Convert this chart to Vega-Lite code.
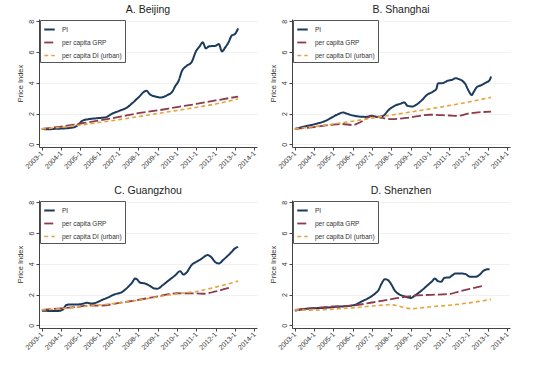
{
  "$schema": "https://vega.github.io/schema/vega-lite/v6.json",
  "padding": {"left": 16, "top": 4, "right": 5, "bottom": 5},
  "background": "white",
  "datasets": {
    "d": [
      {"city":"Beijing","series":"PI","date":"2003-01-01","value":1.0},
      {"city":"Beijing","series":"PI","date":"2003-05-01","value":0.97},
      {"city":"Beijing","series":"PI","date":"2003-09-01","value":1.0},
      {"city":"Beijing","series":"PI","date":"2004-03-01","value":1.03},
      {"city":"Beijing","series":"PI","date":"2004-09-01","value":1.1},
      {"city":"Beijing","series":"PI","date":"2004-12-01","value":1.3},
      {"city":"Beijing","series":"PI","date":"2005-02-01","value":1.52},
      {"city":"Beijing","series":"PI","date":"2005-06-01","value":1.63},
      {"city":"Beijing","series":"PI","date":"2005-12-01","value":1.7},
      {"city":"Beijing","series":"PI","date":"2006-05-01","value":1.76},
      {"city":"Beijing","series":"PI","date":"2006-08-01","value":1.95},
      {"city":"Beijing","series":"PI","date":"2007-01-01","value":2.17},
      {"city":"Beijing","series":"PI","date":"2007-06-01","value":2.39},
      {"city":"Beijing","series":"PI","date":"2007-09-01","value":2.65},
      {"city":"Beijing","series":"PI","date":"2008-01-01","value":3.04},
      {"city":"Beijing","series":"PI","date":"2008-06-01","value":3.48},
      {"city":"Beijing","series":"PI","date":"2008-08-01","value":3.26},
      {"city":"Beijing","series":"PI","date":"2008-12-01","value":3.09},
      {"city":"Beijing","series":"PI","date":"2009-03-01","value":3.04},
      {"city":"Beijing","series":"PI","date":"2009-07-01","value":3.2},
      {"city":"Beijing","series":"PI","date":"2009-10-01","value":3.41},
      {"city":"Beijing","series":"PI","date":"2009-12-01","value":3.8},
      {"city":"Beijing","series":"PI","date":"2010-02-01","value":4.13},
      {"city":"Beijing","series":"PI","date":"2010-04-01","value":4.74},
      {"city":"Beijing","series":"PI","date":"2010-07-01","value":5.1},
      {"city":"Beijing","series":"PI","date":"2010-10-01","value":5.33},
      {"city":"Beijing","series":"PI","date":"2011-01-01","value":6.09},
      {"city":"Beijing","series":"PI","date":"2011-03-01","value":6.35},
      {"city":"Beijing","series":"PI","date":"2011-05-01","value":6.63},
      {"city":"Beijing","series":"PI","date":"2011-07-01","value":6.24},
      {"city":"Beijing","series":"PI","date":"2011-09-01","value":6.37},
      {"city":"Beijing","series":"PI","date":"2012-01-01","value":6.41},
      {"city":"Beijing","series":"PI","date":"2012-03-01","value":6.52},
      {"city":"Beijing","series":"PI","date":"2012-05-01","value":6.04},
      {"city":"Beijing","series":"PI","date":"2012-07-01","value":6.3},
      {"city":"Beijing","series":"PI","date":"2012-09-01","value":6.63},
      {"city":"Beijing","series":"PI","date":"2012-11-01","value":7.07},
      {"city":"Beijing","series":"PI","date":"2013-01-01","value":7.17},
      {"city":"Beijing","series":"PI","date":"2013-03-01","value":7.54},
      {"city":"Beijing","series":"per capita GRP","date":"2003-01-01","value":1.0},
      {"city":"Beijing","series":"per capita GRP","date":"2004-01-01","value":1.15},
      {"city":"Beijing","series":"per capita GRP","date":"2005-01-01","value":1.35},
      {"city":"Beijing","series":"per capita GRP","date":"2006-01-01","value":1.55},
      {"city":"Beijing","series":"per capita GRP","date":"2007-01-01","value":1.78},
      {"city":"Beijing","series":"per capita GRP","date":"2008-01-01","value":2.02},
      {"city":"Beijing","series":"per capita GRP","date":"2009-01-01","value":2.2},
      {"city":"Beijing","series":"per capita GRP","date":"2010-01-01","value":2.42},
      {"city":"Beijing","series":"per capita GRP","date":"2011-01-01","value":2.62},
      {"city":"Beijing","series":"per capita GRP","date":"2012-01-01","value":2.85},
      {"city":"Beijing","series":"per capita GRP","date":"2013-03-01","value":3.1},
      {"city":"Beijing","series":"per capita DI (urban)","date":"2003-01-01","value":1.0},
      {"city":"Beijing","series":"per capita DI (urban)","date":"2004-01-01","value":1.1},
      {"city":"Beijing","series":"per capita DI (urban)","date":"2005-01-01","value":1.25},
      {"city":"Beijing","series":"per capita DI (urban)","date":"2006-01-01","value":1.42},
      {"city":"Beijing","series":"per capita DI (urban)","date":"2007-01-01","value":1.6},
      {"city":"Beijing","series":"per capita DI (urban)","date":"2008-01-01","value":1.8},
      {"city":"Beijing","series":"per capita DI (urban)","date":"2009-01-01","value":2.0},
      {"city":"Beijing","series":"per capita DI (urban)","date":"2010-01-01","value":2.2},
      {"city":"Beijing","series":"per capita DI (urban)","date":"2011-01-01","value":2.4},
      {"city":"Beijing","series":"per capita DI (urban)","date":"2012-01-01","value":2.62},
      {"city":"Beijing","series":"per capita DI (urban)","date":"2013-03-01","value":2.95},

      {"city":"Shanghai","series":"PI","date":"2003-01-01","value":1.0},
      {"city":"Shanghai","series":"PI","date":"2003-09-01","value":1.2},
      {"city":"Shanghai","series":"PI","date":"2004-03-01","value":1.35},
      {"city":"Shanghai","series":"PI","date":"2004-08-01","value":1.52},
      {"city":"Shanghai","series":"PI","date":"2004-12-01","value":1.74},
      {"city":"Shanghai","series":"PI","date":"2005-04-01","value":1.96},
      {"city":"Shanghai","series":"PI","date":"2005-07-01","value":2.07},
      {"city":"Shanghai","series":"PI","date":"2005-09-01","value":2.0},
      {"city":"Shanghai","series":"PI","date":"2006-01-01","value":1.87},
      {"city":"Shanghai","series":"PI","date":"2006-05-01","value":1.8},
      {"city":"Shanghai","series":"PI","date":"2006-09-01","value":1.78},
      {"city":"Shanghai","series":"PI","date":"2007-01-01","value":1.85},
      {"city":"Shanghai","series":"PI","date":"2007-04-01","value":1.78},
      {"city":"Shanghai","series":"PI","date":"2007-08-01","value":1.85},
      {"city":"Shanghai","series":"PI","date":"2007-11-01","value":2.2},
      {"city":"Shanghai","series":"PI","date":"2008-03-01","value":2.5},
      {"city":"Shanghai","series":"PI","date":"2008-07-01","value":2.65},
      {"city":"Shanghai","series":"PI","date":"2008-09-01","value":2.72},
      {"city":"Shanghai","series":"PI","date":"2008-11-01","value":2.5},
      {"city":"Shanghai","series":"PI","date":"2009-02-01","value":2.46},
      {"city":"Shanghai","series":"PI","date":"2009-05-01","value":2.6},
      {"city":"Shanghai","series":"PI","date":"2009-08-01","value":2.87},
      {"city":"Shanghai","series":"PI","date":"2009-11-01","value":3.2},
      {"city":"Shanghai","series":"PI","date":"2010-03-01","value":3.43},
      {"city":"Shanghai","series":"PI","date":"2010-05-01","value":3.6},
      {"city":"Shanghai","series":"PI","date":"2010-06-01","value":3.96},
      {"city":"Shanghai","series":"PI","date":"2010-09-01","value":3.98},
      {"city":"Shanghai","series":"PI","date":"2010-12-01","value":4.13},
      {"city":"Shanghai","series":"PI","date":"2011-03-01","value":4.2},
      {"city":"Shanghai","series":"PI","date":"2011-05-01","value":4.3},
      {"city":"Shanghai","series":"PI","date":"2011-07-01","value":4.24},
      {"city":"Shanghai","series":"PI","date":"2011-09-01","value":4.13},
      {"city":"Shanghai","series":"PI","date":"2011-11-01","value":3.91},
      {"city":"Shanghai","series":"PI","date":"2012-01-01","value":3.48},
      {"city":"Shanghai","series":"PI","date":"2012-03-01","value":3.2},
      {"city":"Shanghai","series":"PI","date":"2012-04-01","value":3.37},
      {"city":"Shanghai","series":"PI","date":"2012-06-01","value":3.7},
      {"city":"Shanghai","series":"PI","date":"2012-09-01","value":3.85},
      {"city":"Shanghai","series":"PI","date":"2012-12-01","value":4.02},
      {"city":"Shanghai","series":"PI","date":"2013-02-01","value":4.17},
      {"city":"Shanghai","series":"PI","date":"2013-03-01","value":4.41},
      {"city":"Shanghai","series":"per capita GRP","date":"2003-01-01","value":1.0},
      {"city":"Shanghai","series":"per capita GRP","date":"2004-01-01","value":1.12},
      {"city":"Shanghai","series":"per capita GRP","date":"2005-01-01","value":1.28},
      {"city":"Shanghai","series":"per capita GRP","date":"2005-06-01","value":1.32},
      {"city":"Shanghai","series":"per capita GRP","date":"2006-01-01","value":1.25},
      {"city":"Shanghai","series":"per capita GRP","date":"2006-06-01","value":1.45},
      {"city":"Shanghai","series":"per capita GRP","date":"2007-01-01","value":1.83},
      {"city":"Shanghai","series":"per capita GRP","date":"2007-06-01","value":1.74},
      {"city":"Shanghai","series":"per capita GRP","date":"2008-01-01","value":1.63},
      {"city":"Shanghai","series":"per capita GRP","date":"2009-01-01","value":1.75},
      {"city":"Shanghai","series":"per capita GRP","date":"2010-01-01","value":1.92},
      {"city":"Shanghai","series":"per capita GRP","date":"2011-01-01","value":1.87},
      {"city":"Shanghai","series":"per capita GRP","date":"2011-06-01","value":1.85},
      {"city":"Shanghai","series":"per capita GRP","date":"2012-01-01","value":2.0},
      {"city":"Shanghai","series":"per capita GRP","date":"2013-03-01","value":2.12},
      {"city":"Shanghai","series":"per capita DI (urban)","date":"2003-01-01","value":1.0},
      {"city":"Shanghai","series":"per capita DI (urban)","date":"2004-01-01","value":1.15},
      {"city":"Shanghai","series":"per capita DI (urban)","date":"2005-01-01","value":1.32},
      {"city":"Shanghai","series":"per capita DI (urban)","date":"2006-01-01","value":1.5},
      {"city":"Shanghai","series":"per capita DI (urban)","date":"2007-01-01","value":1.7},
      {"city":"Shanghai","series":"per capita DI (urban)","date":"2008-01-01","value":1.9},
      {"city":"Shanghai","series":"per capita DI (urban)","date":"2009-01-01","value":2.1},
      {"city":"Shanghai","series":"per capita DI (urban)","date":"2010-01-01","value":2.3},
      {"city":"Shanghai","series":"per capita DI (urban)","date":"2011-01-01","value":2.52},
      {"city":"Shanghai","series":"per capita DI (urban)","date":"2012-01-01","value":2.75},
      {"city":"Shanghai","series":"per capita DI (urban)","date":"2013-03-01","value":3.05},

      {"city":"Guangzhou","series":"PI","date":"2003-01-01","value":0.95},
      {"city":"Guangzhou","series":"PI","date":"2003-07-01","value":0.93},
      {"city":"Guangzhou","series":"PI","date":"2003-11-01","value":0.93},
      {"city":"Guangzhou","series":"PI","date":"2004-02-01","value":1.02},
      {"city":"Guangzhou","series":"PI","date":"2004-04-01","value":1.3},
      {"city":"Guangzhou","series":"PI","date":"2004-06-01","value":1.35},
      {"city":"Guangzhou","series":"PI","date":"2004-11-01","value":1.35},
      {"city":"Guangzhou","series":"PI","date":"2005-03-01","value":1.41},
      {"city":"Guangzhou","series":"PI","date":"2005-05-01","value":1.46},
      {"city":"Guangzhou","series":"PI","date":"2005-08-01","value":1.41},
      {"city":"Guangzhou","series":"PI","date":"2005-11-01","value":1.48},
      {"city":"Guangzhou","series":"PI","date":"2006-02-01","value":1.63},
      {"city":"Guangzhou","series":"PI","date":"2006-06-01","value":1.8},
      {"city":"Guangzhou","series":"PI","date":"2006-10-01","value":2.0},
      {"city":"Guangzhou","series":"PI","date":"2007-03-01","value":2.17},
      {"city":"Guangzhou","series":"PI","date":"2007-06-01","value":2.43},
      {"city":"Guangzhou","series":"PI","date":"2007-09-01","value":2.76},
      {"city":"Guangzhou","series":"PI","date":"2007-11-01","value":3.04},
      {"city":"Guangzhou","series":"PI","date":"2007-12-01","value":3.0},
      {"city":"Guangzhou","series":"PI","date":"2008-02-01","value":2.78},
      {"city":"Guangzhou","series":"PI","date":"2008-05-01","value":2.72},
      {"city":"Guangzhou","series":"PI","date":"2008-08-01","value":2.57},
      {"city":"Guangzhou","series":"PI","date":"2008-11-01","value":2.39},
      {"city":"Guangzhou","series":"PI","date":"2009-01-01","value":2.38},
      {"city":"Guangzhou","series":"PI","date":"2009-04-01","value":2.6},
      {"city":"Guangzhou","series":"PI","date":"2009-08-01","value":2.93},
      {"city":"Guangzhou","series":"PI","date":"2009-12-01","value":3.26},
      {"city":"Guangzhou","series":"PI","date":"2010-03-01","value":3.52},
      {"city":"Guangzhou","series":"PI","date":"2010-05-01","value":3.3},
      {"city":"Guangzhou","series":"PI","date":"2010-07-01","value":3.43},
      {"city":"Guangzhou","series":"PI","date":"2010-10-01","value":3.91},
      {"city":"Guangzhou","series":"PI","date":"2011-01-01","value":4.13},
      {"city":"Guangzhou","series":"PI","date":"2011-04-01","value":4.3},
      {"city":"Guangzhou","series":"PI","date":"2011-06-01","value":4.46},
      {"city":"Guangzhou","series":"PI","date":"2011-08-01","value":4.57},
      {"city":"Guangzhou","series":"PI","date":"2011-10-01","value":4.46},
      {"city":"Guangzhou","series":"PI","date":"2012-01-01","value":4.09},
      {"city":"Guangzhou","series":"PI","date":"2012-03-01","value":4.02},
      {"city":"Guangzhou","series":"PI","date":"2012-06-01","value":4.28},
      {"city":"Guangzhou","series":"PI","date":"2012-09-01","value":4.57},
      {"city":"Guangzhou","series":"PI","date":"2012-11-01","value":4.78},
      {"city":"Guangzhou","series":"PI","date":"2013-01-01","value":5.0},
      {"city":"Guangzhou","series":"PI","date":"2013-03-01","value":5.1},
      {"city":"Guangzhou","series":"per capita GRP","date":"2003-01-01","value":1.0},
      {"city":"Guangzhou","series":"per capita GRP","date":"2004-01-01","value":1.1},
      {"city":"Guangzhou","series":"per capita GRP","date":"2005-01-01","value":1.22},
      {"city":"Guangzhou","series":"per capita GRP","date":"2005-07-01","value":1.3},
      {"city":"Guangzhou","series":"per capita GRP","date":"2006-01-01","value":1.27},
      {"city":"Guangzhou","series":"per capita GRP","date":"2007-01-01","value":1.45},
      {"city":"Guangzhou","series":"per capita GRP","date":"2008-01-01","value":1.65},
      {"city":"Guangzhou","series":"per capita GRP","date":"2009-01-01","value":1.88},
      {"city":"Guangzhou","series":"per capita GRP","date":"2010-01-01","value":2.08},
      {"city":"Guangzhou","series":"per capita GRP","date":"2011-01-01","value":2.07},
      {"city":"Guangzhou","series":"per capita GRP","date":"2011-06-01","value":2.05},
      {"city":"Guangzhou","series":"per capita GRP","date":"2012-01-01","value":2.2},
      {"city":"Guangzhou","series":"per capita GRP","date":"2012-10-01","value":2.45},
      {"city":"Guangzhou","series":"per capita DI (urban)","date":"2003-01-01","value":1.0},
      {"city":"Guangzhou","series":"per capita DI (urban)","date":"2004-01-01","value":1.08},
      {"city":"Guangzhou","series":"per capita DI (urban)","date":"2005-01-01","value":1.2},
      {"city":"Guangzhou","series":"per capita DI (urban)","date":"2006-01-01","value":1.32},
      {"city":"Guangzhou","series":"per capita DI (urban)","date":"2007-01-01","value":1.45},
      {"city":"Guangzhou","series":"per capita DI (urban)","date":"2008-01-01","value":1.63},
      {"city":"Guangzhou","series":"per capita DI (urban)","date":"2009-01-01","value":1.85},
      {"city":"Guangzhou","series":"per capita DI (urban)","date":"2010-01-01","value":2.05},
      {"city":"Guangzhou","series":"per capita DI (urban)","date":"2011-01-01","value":2.2},
      {"city":"Guangzhou","series":"per capita DI (urban)","date":"2012-01-01","value":2.48},
      {"city":"Guangzhou","series":"per capita DI (urban)","date":"2013-03-01","value":2.87},

      {"city":"Shenzhen","series":"PI","date":"2003-01-01","value":0.95},
      {"city":"Shenzhen","series":"PI","date":"2003-10-01","value":1.09},
      {"city":"Shenzhen","series":"PI","date":"2004-07-01","value":1.13},
      {"city":"Shenzhen","series":"PI","date":"2005-03-01","value":1.2},
      {"city":"Shenzhen","series":"PI","date":"2005-09-01","value":1.24},
      {"city":"Shenzhen","series":"PI","date":"2006-03-01","value":1.35},
      {"city":"Shenzhen","series":"PI","date":"2006-07-01","value":1.57},
      {"city":"Shenzhen","series":"PI","date":"2006-11-01","value":1.78},
      {"city":"Shenzhen","series":"PI","date":"2007-03-01","value":2.07},
      {"city":"Shenzhen","series":"PI","date":"2007-05-01","value":2.28},
      {"city":"Shenzhen","series":"PI","date":"2007-07-01","value":2.72},
      {"city":"Shenzhen","series":"PI","date":"2007-09-01","value":3.0},
      {"city":"Shenzhen","series":"PI","date":"2007-11-01","value":2.93},
      {"city":"Shenzhen","series":"PI","date":"2008-01-01","value":2.65},
      {"city":"Shenzhen","series":"PI","date":"2008-03-01","value":2.28},
      {"city":"Shenzhen","series":"PI","date":"2008-06-01","value":2.0},
      {"city":"Shenzhen","series":"PI","date":"2008-09-01","value":1.89},
      {"city":"Shenzhen","series":"PI","date":"2009-01-01","value":1.78},
      {"city":"Shenzhen","series":"PI","date":"2009-04-01","value":1.96},
      {"city":"Shenzhen","series":"PI","date":"2009-08-01","value":2.28},
      {"city":"Shenzhen","series":"PI","date":"2009-12-01","value":2.65},
      {"city":"Shenzhen","series":"PI","date":"2010-02-01","value":2.83},
      {"city":"Shenzhen","series":"PI","date":"2010-04-01","value":3.04},
      {"city":"Shenzhen","series":"PI","date":"2010-06-01","value":2.87},
      {"city":"Shenzhen","series":"PI","date":"2010-08-01","value":2.83},
      {"city":"Shenzhen","series":"PI","date":"2010-10-01","value":3.09},
      {"city":"Shenzhen","series":"PI","date":"2011-01-01","value":3.11},
      {"city":"Shenzhen","series":"PI","date":"2011-03-01","value":3.26},
      {"city":"Shenzhen","series":"PI","date":"2011-05-01","value":3.37},
      {"city":"Shenzhen","series":"PI","date":"2011-08-01","value":3.37},
      {"city":"Shenzhen","series":"PI","date":"2011-11-01","value":3.33},
      {"city":"Shenzhen","series":"PI","date":"2012-02-01","value":3.15},
      {"city":"Shenzhen","series":"PI","date":"2012-05-01","value":3.15},
      {"city":"Shenzhen","series":"PI","date":"2012-08-01","value":3.3},
      {"city":"Shenzhen","series":"PI","date":"2012-10-01","value":3.52},
      {"city":"Shenzhen","series":"PI","date":"2012-12-01","value":3.63},
      {"city":"Shenzhen","series":"PI","date":"2013-02-01","value":3.65},
      {"city":"Shenzhen","series":"per capita GRP","date":"2003-01-01","value":1.0},
      {"city":"Shenzhen","series":"per capita GRP","date":"2004-01-01","value":1.12},
      {"city":"Shenzhen","series":"per capita GRP","date":"2005-01-01","value":1.22},
      {"city":"Shenzhen","series":"per capita GRP","date":"2006-01-01","value":1.28},
      {"city":"Shenzhen","series":"per capita GRP","date":"2007-01-01","value":1.48},
      {"city":"Shenzhen","series":"per capita GRP","date":"2008-01-01","value":1.7},
      {"city":"Shenzhen","series":"per capita GRP","date":"2009-01-01","value":1.9},
      {"city":"Shenzhen","series":"per capita GRP","date":"2010-01-01","value":1.98},
      {"city":"Shenzhen","series":"per capita GRP","date":"2011-01-01","value":2.03},
      {"city":"Shenzhen","series":"per capita GRP","date":"2011-07-01","value":2.2},
      {"city":"Shenzhen","series":"per capita GRP","date":"2012-01-01","value":2.35},
      {"city":"Shenzhen","series":"per capita GRP","date":"2012-10-01","value":2.57},
      {"city":"Shenzhen","series":"per capita DI (urban)","date":"2003-01-01","value":1.0},
      {"city":"Shenzhen","series":"per capita DI (urban)","date":"2004-01-01","value":0.98},
      {"city":"Shenzhen","series":"per capita DI (urban)","date":"2005-01-01","value":1.05},
      {"city":"Shenzhen","series":"per capita DI (urban)","date":"2006-01-01","value":1.13},
      {"city":"Shenzhen","series":"per capita DI (urban)","date":"2007-01-01","value":1.25},
      {"city":"Shenzhen","series":"per capita DI (urban)","date":"2008-01-01","value":1.33},
      {"city":"Shenzhen","series":"per capita DI (urban)","date":"2009-01-01","value":1.08},
      {"city":"Shenzhen","series":"per capita DI (urban)","date":"2010-01-01","value":1.2},
      {"city":"Shenzhen","series":"per capita DI (urban)","date":"2011-01-01","value":1.3},
      {"city":"Shenzhen","series":"per capita DI (urban)","date":"2012-01-01","value":1.45},
      {"city":"Shenzhen","series":"per capita DI (urban)","date":"2013-03-01","value":1.68}
    ]
  },
  "columns": 2,
  "spacing": {"row": 15, "column": 12},
  "resolve": {
    "scale": {"color": "independent", "strokeDash": "independent", "strokeWidth": "independent"},
    "legend": {"color": "independent", "strokeDash": "independent"}
  },
  "concat": [
    {
      "title": {"text": "A. Beijing"},
      "data": {"name": "d"},
      "transform": [{"filter": "datum.city === 'Beijing'"}],
      "width": 218, "height": 128,
      "mark": {"type": "line", "interpolate": "monotone"},
      "encoding": {
        "x": {"field": "date", "type": "temporal", "scale": {"domain": ["2002-11-08", "2014-02-22"]}, "axis": {"format": "%Y-%-m", "tickCount": {"interval": "year", "step": 1}, "labelOverlap": false, "labelAngle": -45, "title": null, "grid": false}},
        "y": {"field": "value", "type": "quantitative", "scale": {"domain": [-0.18, 8.15], "nice": false, "zero": false}, "axis": {"values": [0, 2, 4, 6, 8], "title": "Price Index"}},
        "color": {"field": "series", "type": "nominal", "scale": {"domain": ["PI", "per capita GRP", "per capita DI (urban)"], "range": ["#1b3a5c", "#8c3a4c", "#e6a43c"]}, "legend": {"title": null}},
        "strokeDash": {"field": "series", "type": "nominal", "scale": {"domain": ["PI", "per capita GRP", "per capita DI (urban)"], "range": [[1, 0], [9, 3], [4, 3]]}, "legend": {"title": null}},
        "strokeWidth": {"field": "series", "type": "nominal", "scale": {"domain": ["PI", "per capita GRP", "per capita DI (urban)"], "range": [2, 1.6, 1.6]}, "legend": null}
      }
    },
    {
      "title": {"text": "B. Shanghai"},
      "data": {"name": "d"},
      "transform": [{"filter": "datum.city === 'Shanghai'"}],
      "width": 218, "height": 128,
      "mark": {"type": "line", "interpolate": "monotone"},
      "encoding": {
        "x": {"field": "date", "type": "temporal", "scale": {"domain": ["2002-11-08", "2014-02-22"]}, "axis": {"format": "%Y-%-m", "tickCount": {"interval": "year", "step": 1}, "labelOverlap": false, "labelAngle": -45, "title": null, "grid": false}},
        "y": {"field": "value", "type": "quantitative", "scale": {"domain": [-0.18, 8.15], "nice": false, "zero": false}, "axis": {"values": [0, 2, 4, 6, 8], "title": "Price Index"}},
        "color": {"field": "series", "type": "nominal", "scale": {"domain": ["PI", "per capita GRP", "per capita DI (urban)"], "range": ["#1b3a5c", "#8c3a4c", "#e6a43c"]}, "legend": {"title": null}},
        "strokeDash": {"field": "series", "type": "nominal", "scale": {"domain": ["PI", "per capita GRP", "per capita DI (urban)"], "range": [[1, 0], [9, 3], [4, 3]]}, "legend": {"title": null}},
        "strokeWidth": {"field": "series", "type": "nominal", "scale": {"domain": ["PI", "per capita GRP", "per capita DI (urban)"], "range": [2, 1.6, 1.6]}, "legend": null}
      }
    },
    {
      "title": {"text": "C. Guangzhou"},
      "data": {"name": "d"},
      "transform": [{"filter": "datum.city === 'Guangzhou'"}],
      "width": 218, "height": 128,
      "mark": {"type": "line", "interpolate": "monotone"},
      "encoding": {
        "x": {"field": "date", "type": "temporal", "scale": {"domain": ["2002-11-08", "2014-02-22"]}, "axis": {"format": "%Y-%-m", "tickCount": {"interval": "year", "step": 1}, "labelOverlap": false, "labelAngle": -45, "title": null, "grid": false}},
        "y": {"field": "value", "type": "quantitative", "scale": {"domain": [-0.18, 8.15], "nice": false, "zero": false}, "axis": {"values": [0, 2, 4, 6, 8], "title": "Price Index"}},
        "color": {"field": "series", "type": "nominal", "scale": {"domain": ["PI", "per capita GRP", "per capita DI (urban)"], "range": ["#1b3a5c", "#8c3a4c", "#e6a43c"]}, "legend": {"title": null}},
        "strokeDash": {"field": "series", "type": "nominal", "scale": {"domain": ["PI", "per capita GRP", "per capita DI (urban)"], "range": [[1, 0], [9, 3], [4, 3]]}, "legend": {"title": null}},
        "strokeWidth": {"field": "series", "type": "nominal", "scale": {"domain": ["PI", "per capita GRP", "per capita DI (urban)"], "range": [2, 1.6, 1.6]}, "legend": null}
      }
    },
    {
      "title": {"text": "D. Shenzhen"},
      "data": {"name": "d"},
      "transform": [{"filter": "datum.city === 'Shenzhen'"}],
      "width": 218, "height": 128,
      "mark": {"type": "line", "interpolate": "monotone"},
      "encoding": {
        "x": {"field": "date", "type": "temporal", "scale": {"domain": ["2002-11-08", "2014-02-22"]}, "axis": {"format": "%Y-%-m", "tickCount": {"interval": "year", "step": 1}, "labelOverlap": false, "labelAngle": -45, "title": null, "grid": false}},
        "y": {"field": "value", "type": "quantitative", "scale": {"domain": [-0.18, 8.15], "nice": false, "zero": false}, "axis": {"values": [0, 2, 4, 6, 8], "title": "Price Index"}},
        "color": {"field": "series", "type": "nominal", "scale": {"domain": ["PI", "per capita GRP", "per capita DI (urban)"], "range": ["#1b3a5c", "#8c3a4c", "#e6a43c"]}, "legend": {"title": null}},
        "strokeDash": {"field": "series", "type": "nominal", "scale": {"domain": ["PI", "per capita GRP", "per capita DI (urban)"], "range": [[1, 0], [9, 3], [4, 3]]}, "legend": {"title": null}},
        "strokeWidth": {"field": "series", "type": "nominal", "scale": {"domain": ["PI", "per capita GRP", "per capita DI (urban)"], "range": [2, 1.6, 1.6]}, "legend": null}
      }
    }
  ],
  "config": {
    "font": "Liberation Sans",
    "view": {"stroke": null},
    "title": {"fontSize": 10.5, "fontWeight": "normal", "color": "#222", "anchor": "middle", "offset": 4},
    "axis": {"labelFontSize": 7, "labelColor": "#333", "domainColor": "#444", "tickColor": "#444", "tickSize": 3, "titleFontSize": 7.5, "titleFontWeight": "normal", "titleColor": "#333", "gridColor": "#eeeeee", "gridWidth": 0.8, "labelPadding": 2, "titlePadding": 3},
    "axisY": {"labelAngle": -90, "labelAlign": "center", "labelBaseline": "bottom"},
    "axisX": {"labelAlign": "right", "labelBaseline": "middle"},
    "legend": {"orient": "top-left", "offset": 1, "strokeColor": "#555", "fillColor": "white", "padding": 3, "labelFontSize": 6.5, "labelColor": "#333", "symbolType": "stroke", "symbolSize": 110, "symbolStrokeWidth": 2, "rowPadding": 2, "labelLimit": 200, "labelOffset": 6, "cornerRadius": 0}
  }
}
